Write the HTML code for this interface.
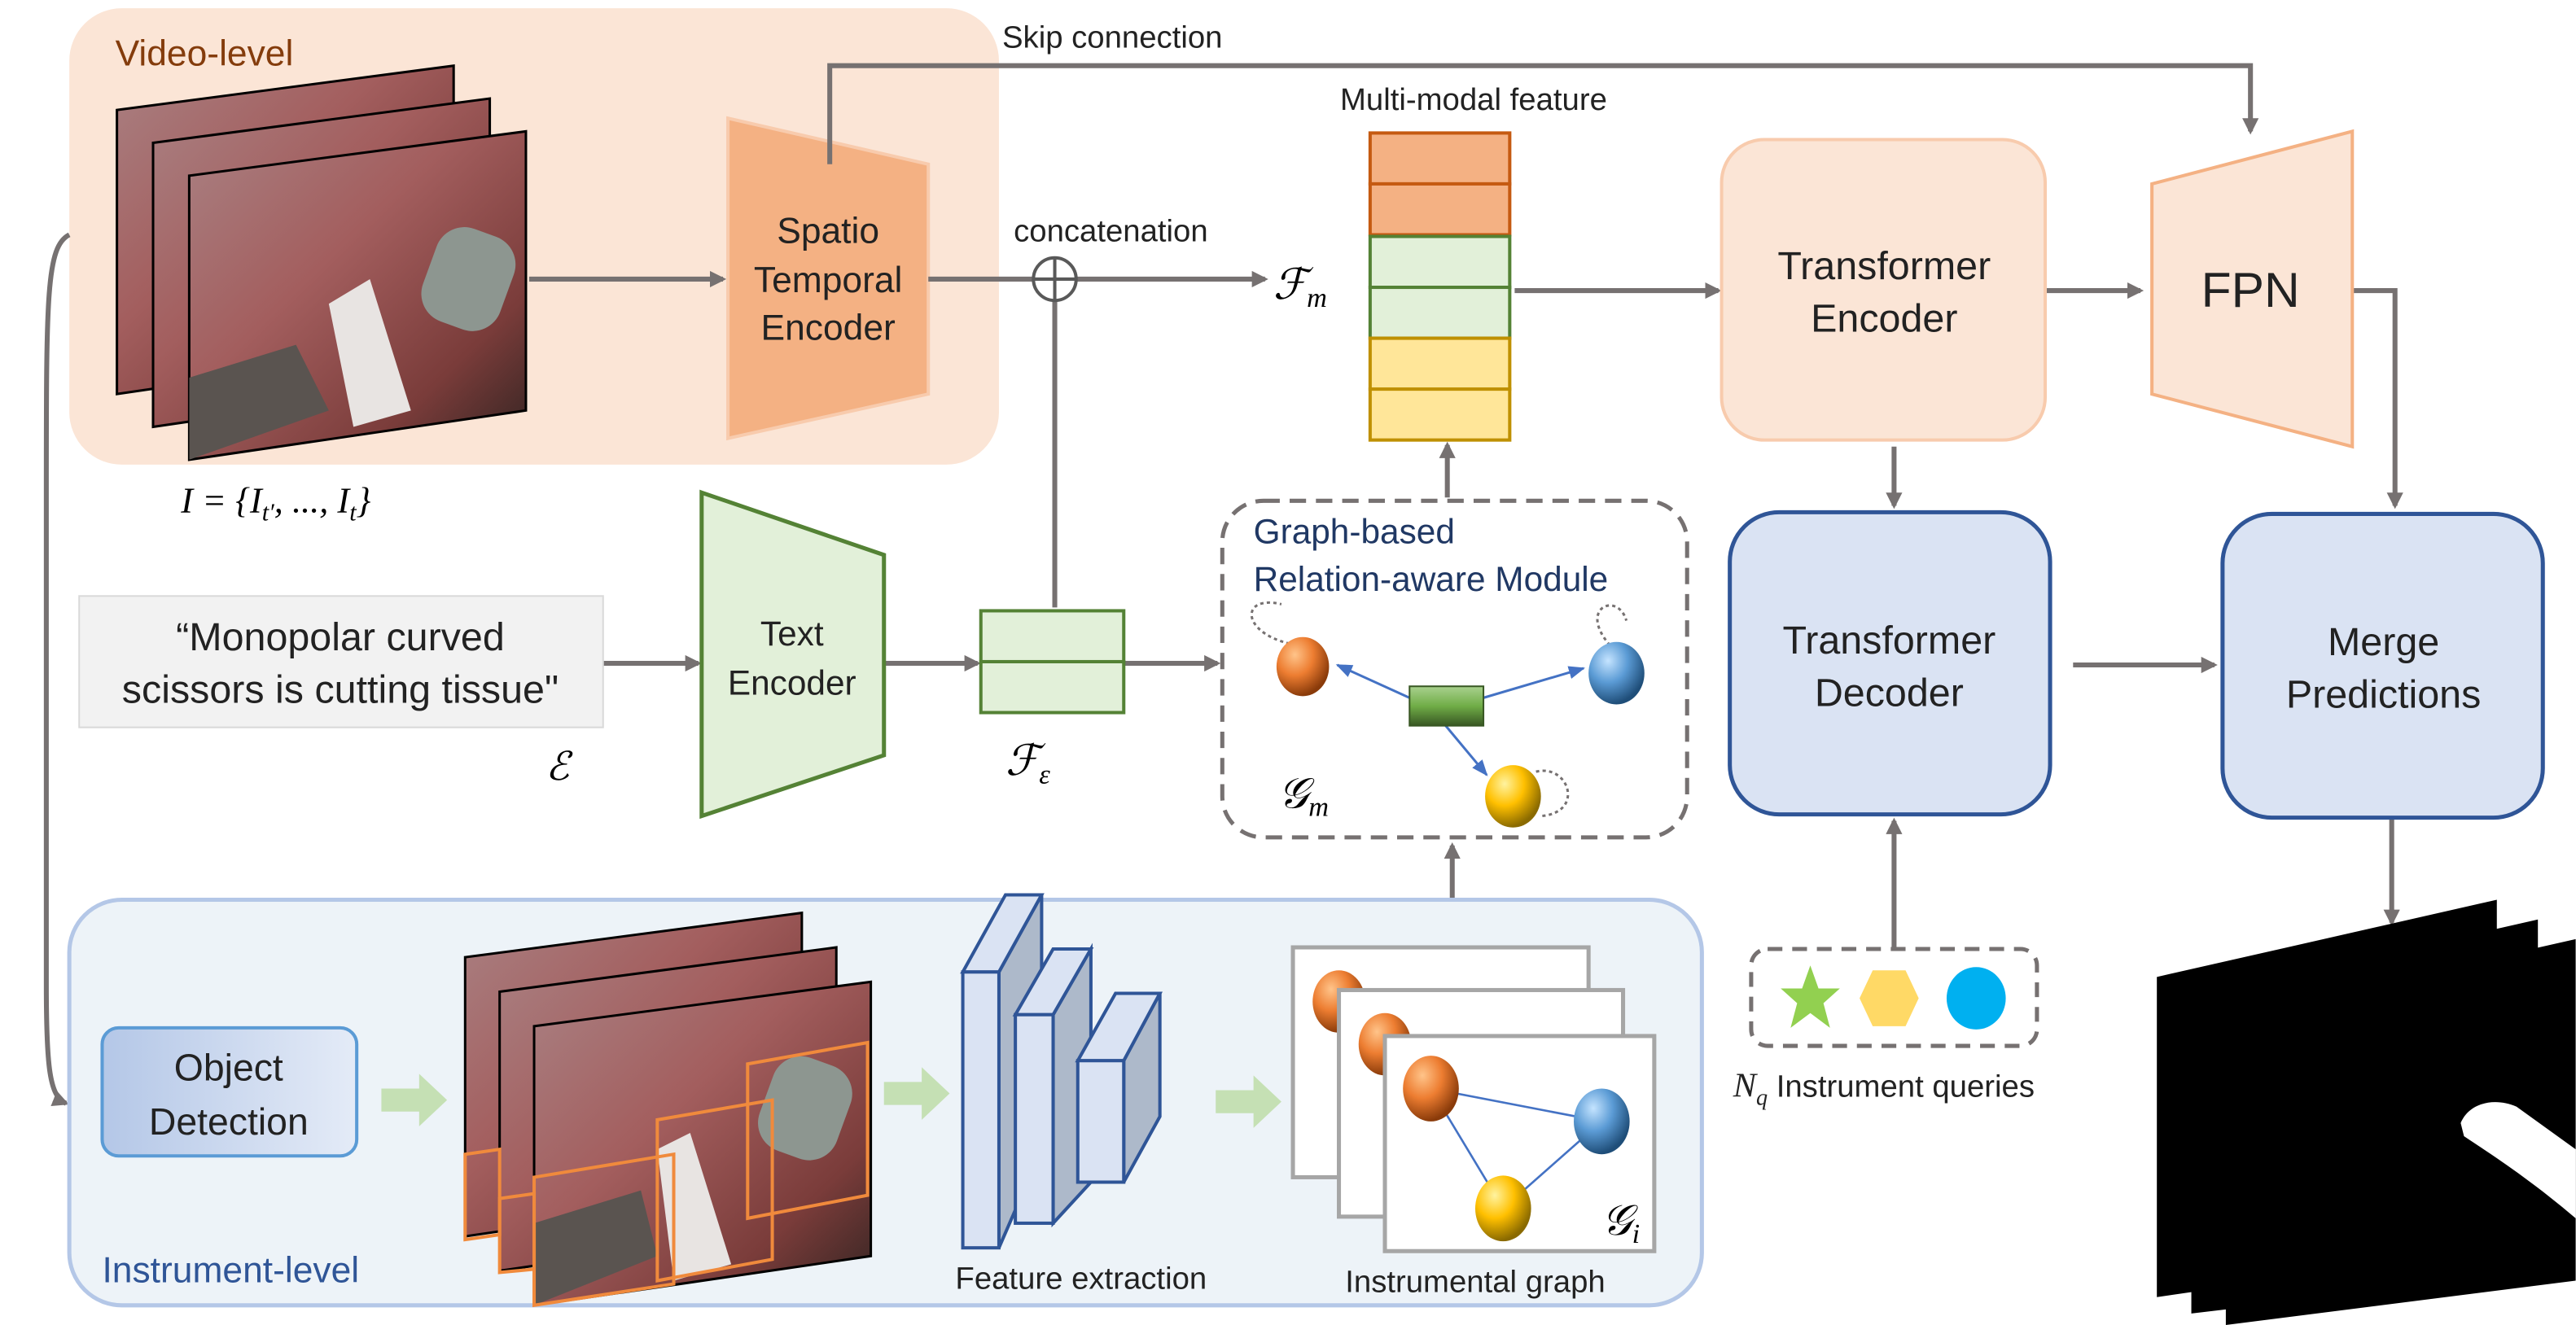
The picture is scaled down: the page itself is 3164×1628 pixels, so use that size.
<!DOCTYPE html>
<html><head><meta charset="utf-8"><style>
html,body{margin:0;padding:0;background:#fff;}
svg{display:block;}
text{font-family:"Liberation Sans",sans-serif;}
.m{font-family:"Liberation Serif",serif;font-style:italic;}
</style></head><body>
<svg width="3164" height="1628" viewBox="0 0 1568 807" xmlns="http://www.w3.org/2000/svg">
<defs>
<marker id="ar" markerWidth="10" markerHeight="10" refX="8" refY="5" orient="auto" markerUnits="userSpaceOnUse"><path d="M0,0 L10,5 L0,10 z" fill="#767171"/></marker>
<marker id="ab" markerWidth="10" markerHeight="10" refX="9" refY="5" orient="auto" markerUnits="userSpaceOnUse"><path d="M0,1 L10,5 L0,9 z" fill="#4472c4"/></marker>
<linearGradient id="ph" x1="0" y1="0" x2="1" y2="1">
<stop offset="0" stop-color="#a98082"/><stop offset="0.4" stop-color="#a35e5e"/><stop offset="0.75" stop-color="#7a3c3a"/><stop offset="1" stop-color="#2e2220"/></linearGradient>
<radialGradient id="go" cx="0.35" cy="0.3" r="0.7"><stop offset="0" stop-color="#ffc48a"/><stop offset="0.5" stop-color="#ed7d31"/><stop offset="1" stop-color="#8a3b0a"/></radialGradient>
<radialGradient id="gb" cx="0.35" cy="0.3" r="0.7"><stop offset="0" stop-color="#c5e4ff"/><stop offset="0.5" stop-color="#5b9bd5"/><stop offset="1" stop-color="#1f4e79"/></radialGradient>
<radialGradient id="gy" cx="0.35" cy="0.3" r="0.7"><stop offset="0" stop-color="#fff3a0"/><stop offset="0.5" stop-color="#ffc000"/><stop offset="1" stop-color="#8a6a00"/></radialGradient>
<linearGradient id="gg" x1="0" y1="0" x2="0" y2="1"><stop offset="0" stop-color="#a9d18e"/><stop offset="0.5" stop-color="#70ad47"/><stop offset="1" stop-color="#385723"/></linearGradient>
<linearGradient id="od" x1="0" y1="0" x2="1" y2="0"><stop offset="0" stop-color="#b4c7e7"/><stop offset="1" stop-color="#e4ebf7"/></linearGradient>
<clipPath id="c1"><polygon points="115,107 320,80 320,250 115,280"/></clipPath>
<clipPath id="c2"><polygon points="325,625 530,598 530,765 325,795"/></clipPath>
</defs>

<!-- Video level -->
<rect x="42" y="5" width="566" height="278" rx="32" fill="#fbe5d6"/>
<text x="70" y="40" font-size="22" fill="#843c0c">Video-level</text>
<g stroke="#000" stroke-width="1.5">
<polygon points="71,67 276,40 276,210 71,240" fill="url(#ph)"/>
<polygon points="93,87 298,60 298,230 93,260" fill="url(#ph)"/>
<polygon points="115,107 320,80 320,250 115,280" fill="url(#ph)"/>
</g>
<g clip-path="url(#c1)">
<path d="M200,185 L225,170 L250,250 L215,260 z" fill="#e8e4e2"/>
<rect x="260" y="140" width="50" height="60" rx="18" fill="#8d9690" transform="rotate(20 285 170)"/>
<path d="M115,230 L180,210 L200,250 L115,280 z" fill="#5a5450"/>
</g>
<text x="110" y="312" font-size="22" class="m">I = {I<tspan font-size="15" dy="5">t′</tspan><tspan dy="-5">, ..., I</tspan><tspan font-size="15" dy="5">t</tspan><tspan dy="-5">}</tspan></text>

<!-- spatio temporal encoder -->
<polygon points="443,72 565,100 565,240 443,267" fill="#f4b183" stroke="#f8cbad" stroke-width="2"/>
<g font-size="22" text-anchor="middle" fill="#222"><text x="504" y="148">Spatio</text><text x="504" y="178">Temporal</text><text x="504" y="207">Encoder</text></g>
<g stroke="#767171" stroke-width="3" fill="none">
<line x1="322" y1="170" x2="440" y2="170" marker-end="url(#ar)"/>
<polyline points="505,100 505,40 1370,40 1370,80" marker-end="url(#ar)"/>
<line x1="565" y1="170" x2="770" y2="170" marker-end="url(#ar)"/>
<line x1="642" y1="170" x2="642" y2="370"/>
<circle cx="642" cy="170" r="13" fill="#fff" stroke="#595959" stroke-width="2"/>
<line x1="642" y1="157" x2="642" y2="183" stroke="#595959" stroke-width="2"/>
<line x1="629" y1="170" x2="655" y2="170" stroke="#595959" stroke-width="2"/>
</g>
<text x="610" y="29" font-size="19" fill="#222">Skip connection</text>
<text x="617" y="147" font-size="19" fill="#222">concatenation</text>
<text x="775" y="182" font-size="26" class="m">ℱ<tspan font-size="17" dy="5">m</tspan></text>

<!-- multimodal column -->
<text x="897" y="67" font-size="19" text-anchor="middle" fill="#222">Multi-modal feature</text>
<g stroke-width="2">
<rect x="834" y="81" width="85" height="31" fill="#f4b183" stroke="#c55a11"/>
<rect x="834" y="112" width="85" height="31" fill="#f4b183" stroke="#c55a11"/>
<rect x="834" y="144" width="85" height="31" fill="#e2f0d9" stroke="#548235"/>
<rect x="834" y="175" width="85" height="31" fill="#e2f0d9" stroke="#548235"/>
<rect x="834" y="206" width="85" height="31" fill="#ffe699" stroke="#bf9000"/>
<rect x="834" y="237" width="85" height="31" fill="#ffe699" stroke="#bf9000"/>
</g>
<g stroke="#767171" stroke-width="3" fill="none">
<line x1="922" y1="177" x2="1046" y2="177" marker-end="url(#ar)"/>
<line x1="1245" y1="177" x2="1303" y2="177" marker-end="url(#ar)"/>
<polyline points="1432,177 1458,177 1458,308" marker-end="url(#ar)"/>
<line x1="1153" y1="272" x2="1153" y2="308" marker-end="url(#ar)"/>
<line x1="1262" y1="405" x2="1348" y2="405" marker-end="url(#ar)"/>
<line x1="1456" y1="498" x2="1456" y2="562" marker-end="url(#ar)"/>
<line x1="1153" y1="578" x2="1153" y2="500" marker-end="url(#ar)"/>
<line x1="881" y1="303" x2="881" y2="271" marker-end="url(#ar)"/>
<line x1="884" y1="548" x2="884" y2="515" marker-end="url(#ar)"/>
<line x1="367" y1="404" x2="425" y2="404" marker-end="url(#ar)"/>
<line x1="538" y1="404" x2="595" y2="404" marker-end="url(#ar)"/>
<line x1="684" y1="404" x2="741" y2="404" marker-end="url(#ar)"/>
<path d="M42,143 C28,150 28,180 28,300 L28,600 C28,650 30,668 40,672" marker-end="url(#ar)"/>
</g>

<!-- transformer encoder / FPN -->
<rect x="1048" y="85" width="197" height="183" rx="26" fill="#fbe5d6" stroke="#f8cbad" stroke-width="2"/>
<g font-size="24" text-anchor="middle" fill="#222"><text x="1147" y="170">Transformer</text><text x="1147" y="202">Encoder</text></g>
<polygon points="1310,112 1432,80 1432,272 1310,240" fill="#fbe5d6" stroke="#f4b183" stroke-width="2"/>
<text x="1370" y="187" font-size="30" text-anchor="middle" fill="#222">FPN</text>

<rect x="1053" y="312" width="195" height="184" rx="30" fill="#dae3f3" stroke="#2f5597" stroke-width="2.5"/>
<g font-size="24" text-anchor="middle" fill="#222"><text x="1150" y="398">Transformer</text><text x="1150" y="430">Decoder</text></g>
<rect x="1353" y="313" width="195" height="185" rx="30" fill="#dae3f3" stroke="#2f5597" stroke-width="2.5"/>
<g font-size="24" text-anchor="middle" fill="#222"><text x="1451" y="399">Merge</text><text x="1451" y="431">Predictions</text></g>

<!-- masks -->
<polygon points="1313,595 1520,548 1520,760 1313,790" fill="#000"/>
<polygon points="1334,608 1545,560 1545,775 1334,800" fill="#000"/>
<polygon points="1355,620 1568,572 1568,780 1355,807" fill="#000"/>
<path d="M1498,684 C1503,672 1518,668 1532,674 L1568,700 L1568,742 C1540,718 1515,702 1500,692 z" fill="#fff"/>

<!-- queries -->
<rect x="1066" y="578" width="174" height="59" rx="10" fill="#fff" stroke="#767171" stroke-width="2.5" stroke-dasharray="9,6"/>
<polygon points="1102,588 1107,602 1120,602 1110,611 1114,626 1102,617 1090,626 1094,611 1084,602 1097,602" fill="#92d050"/>
<polygon points="1140,591 1160,591 1168,608 1160,625 1140,625 1132,608" fill="#ffd966"/>
<ellipse cx="1203" cy="608" rx="18" ry="19" fill="#00b0f0"/>
<text x="1055" y="668" font-size="19" fill="#222"><tspan class="m" font-size="21">N<tspan font-size="14" dy="5">q</tspan></tspan><tspan dy="-5"> Instrument queries</tspan></text>

<!-- text encoder -->
<rect x="48" y="363" width="319" height="80" fill="#f2f2f2" stroke="#d9d9d9"/>
<g font-size="24" text-anchor="middle" fill="#222"><text x="207" y="396">“Monopolar curved</text><text x="207" y="428">scissors is cutting tissue"</text></g>
<text x="332" y="475" font-size="24" class="m">ℰ</text>
<polygon points="427,300 538,338 538,460 427,497" fill="#e2f0d9" stroke="#548235" stroke-width="2.5"/>
<g font-size="21" text-anchor="middle" fill="#222"><text x="482" y="393">Text</text><text x="482" y="423">Encoder</text></g>
<rect x="597" y="372" width="87" height="31" fill="#e2f0d9" stroke="#548235" stroke-width="2"/>
<rect x="597" y="403" width="87" height="31" fill="#e2f0d9" stroke="#548235" stroke-width="2"/>
<text x="612" y="472" font-size="26" class="m">ℱ<tspan font-size="17" dy="5">ε</tspan></text>

<!-- graph module -->
<rect x="744" y="305" width="283" height="205" rx="25" fill="#fff" stroke="#767171" stroke-width="2.5" stroke-dasharray="10,6"/>
<text x="763" y="331" font-size="21" fill="#203864">Graph-based</text>
<text x="763" y="360" font-size="21" fill="#203864">Relation-aware Module</text>
<g stroke="#4472c4" stroke-width="1.5">
<line x1="858" y1="425" x2="814" y2="405" marker-end="url(#ab)"/>
<line x1="903" y1="425" x2="964" y2="407" marker-end="url(#ab)"/>
<line x1="880" y1="442" x2="905" y2="472" marker-end="url(#ab)"/>
</g>
<g fill="none" stroke="#767171" stroke-width="1.5" stroke-dasharray="2,2">
<path d="M785,392 C755,385 755,362 780,368"/>
<path d="M980,393 C960,370 985,360 990,378"/>
<path d="M935,470 C955,465 965,495 938,497"/>
</g>
<ellipse cx="793" cy="406" rx="16" ry="18" fill="url(#go)"/>
<ellipse cx="984" cy="410" rx="17" ry="19" fill="url(#gb)"/>
<ellipse cx="921" cy="485" rx="17" ry="19" fill="url(#gy)"/>
<rect x="858" y="418" width="45" height="24" fill="url(#gg)" stroke="#385723"/>
<text x="778" y="492" font-size="26" class="m">𝒢<tspan font-size="17" dy="5">m</tspan></text>

<!-- instrument level -->
<rect x="42" y="548" width="994" height="247" rx="32" fill="#edf3f8" stroke="#b4c7e7" stroke-width="2.5"/>
<text x="62" y="781" font-size="22" fill="#2f5597">Instrument-level</text>
<rect x="62" y="626" width="155" height="78" rx="10" fill="url(#od)" stroke="#5b9bd5" stroke-width="2"/>
<g font-size="23" text-anchor="middle" fill="#222"><text x="139" y="658">Object</text><text x="139" y="691">Detection</text></g>
<g fill="#c5e0b4">
<polygon points="232,663 255,663 255,654 272,670 255,686 255,677 232,677"/>
<polygon points="538,659 561,659 561,650 578,666 561,682 561,673 538,673"/>
<polygon points="740,664 763,664 763,655 780,671 763,687 763,678 740,678"/>
</g>
<g stroke="#000" stroke-width="1.5">
<polygon points="283,583 488,556 488,723 283,753" fill="url(#ph)"/>
<polygon points="304,604 509,577 509,744 304,774" fill="url(#ph)"/>
<polygon points="325,625 530,598 530,765 325,795" fill="url(#ph)"/>
</g>
<g clip-path="url(#c2)">
<path d="M400,700 L420,690 L445,770 L410,780 z" fill="#e8e4e2"/>
<rect x="465" y="645" width="50" height="60" rx="18" fill="#8d9690" transform="rotate(20 490 675)"/>
<path d="M325,745 L390,725 L400,765 L325,795 z" fill="#5a5450"/>
</g>
<g fill="none" stroke="#f08a3c" stroke-width="2">
<polygon points="455,648 528,635 528,728 455,742"/>
<polygon points="400,682 470,670 470,767 400,780"/>
<polygon points="325,717 410,703 410,782 325,795"/>
<polygon points="283,703 304,700 304,752 283,755"/>
<polygon points="304,730 325,727 325,773 304,775"/>
</g>
<g stroke="#2f5597" stroke-width="2">
<polygon points="608,592 634,545 634,700 608,760" fill="#adb9ca"/>
<polygon points="586,592 608,592 634,545 612,545" fill="#dae3f3"/>
<rect x="586" y="592" width="22" height="168" fill="#dae3f3"/>
<polygon points="641,618 664,578 664,720 641,745" fill="#adb9ca"/>
<polygon points="618,618 641,618 664,578 641,578" fill="#dae3f3"/>
<rect x="618" y="618" width="23" height="127" fill="#dae3f3"/>
<polygon points="684,646 706,605 706,680 684,720" fill="#adb9ca"/>
<polygon points="656,646 684,646 706,605 679,605" fill="#dae3f3"/>
<rect x="656" y="646" width="28" height="74" fill="#dae3f3"/>
</g>
<text x="658" y="785" font-size="19" text-anchor="middle" fill="#222">Feature extraction</text>
<g stroke="#a6a6a6" stroke-width="2.5" fill="#fff">
<rect x="787" y="577" width="180" height="140"/>
<ellipse cx="815" cy="610" rx="16" ry="19" fill="url(#go)" stroke="none"/>
<rect x="815" y="603" width="173" height="138"/>
<ellipse cx="843" cy="636" rx="16" ry="19" fill="url(#go)" stroke="none"/>
<rect x="843" y="631" width="164" height="131"/>
</g>
<g stroke="#4472c4" stroke-width="1.3">
<line x1="871" y1="663" x2="975" y2="683"/><line x1="871" y1="663" x2="915" y2="736"/><line x1="975" y1="683" x2="915" y2="736"/>
</g>
<ellipse cx="871" cy="663" rx="17" ry="20" fill="url(#go)"/>
<ellipse cx="975" cy="683" rx="17" ry="20" fill="url(#gb)"/>
<ellipse cx="915" cy="736" rx="17" ry="20" fill="url(#gy)"/>
<text x="975" y="752" font-size="26" class="m">𝒢<tspan font-size="17" dy="5">i</tspan></text>
<text x="898" y="787" font-size="19" text-anchor="middle" fill="#222">Instrumental graph</text>
</svg>
</body></html>
